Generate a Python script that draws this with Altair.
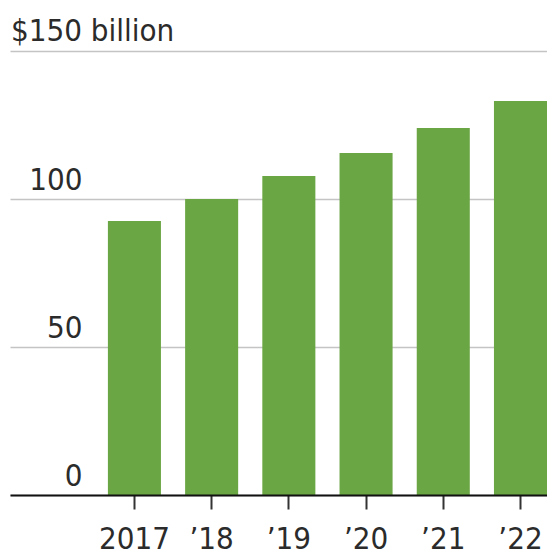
import altair as alt
import pandas as pd

years = ["2017", "’18", "’19", "’20", "’21", "’22"]
values = [92.6, 100.0, 107.8, 115.5, 124.0, 133.1]
top_label = ["$150 billion"]
top_value = [150]

FONT = "DejaVu Sans Condensed, Roboto, sans-serif"
FS = 31
TXT = "#2b2b2b"

df = pd.DataFrame({"year": years, "value": values})
df_lab = pd.DataFrame({"label": top_label, "value": top_value})

y_scale = alt.Scale(domain=[0, 150], nice=False)

bars = alt.Chart(df).mark_bar(color="#6ba644").encode(
    x=alt.X(
        "year:N",
        sort=years,
        scale=alt.Scale(paddingInner=0.313, paddingOuter=0.634, align=1),
        axis=alt.Axis(
            title=None,
            labelAngle=0,
            labelFont=FONT,
            labelFontSize=FS,
            labelColor=TXT,
            labelBaseline="alphabetic",
            labelPadding=39,
            tickSize=14,
            tickWidth=2,
            tickColor="#333333",
            domainColor="#111111",
            domainWidth=2,
            grid=False,
            zindex=1,
        ),
    ),
    y=alt.Y(
        "value:Q",
        scale=y_scale,
        axis=alt.Axis(
            title=None,
            values=[0, 50, 100, 150],
            labelExpr="datum.value == 150 ? '' : datum.label",
            labelFont=FONT,
            labelFontSize=FS,
            labelColor=TXT,
            labelAlign="right",
            labelBaseline="alphabetic",
            labelOffset=-10,
            labelPadding=-72,
            ticks=False,
            tickSize=0,
            domain=False,
            grid=True,
            gridColor="#c4c4c4",
            gridWidth=1.5,
            zindex=0,
        ),
    ),
)

label = alt.Chart(df_lab).mark_text(
    align="left", baseline="alphabetic", dy=-10, font=FONT, fontSize=FS, color=TXT
).encode(
    x=alt.value(1),
    y=alt.Y("value:Q", scale=y_scale),
    text="label:N",
)

chart = (
    alt.layer(bars, label)
    .properties(
        width=537,
        height=444,
        autosize=alt.AutoSizeParams(type="none"),
        padding={"left": 10, "top": 51, "right": 0, "bottom": 61},
        background="white",
    )
    .configure_view(stroke=None)
)

chart.save("out.html", embed_options={"renderer": "svg", "actions": False})
